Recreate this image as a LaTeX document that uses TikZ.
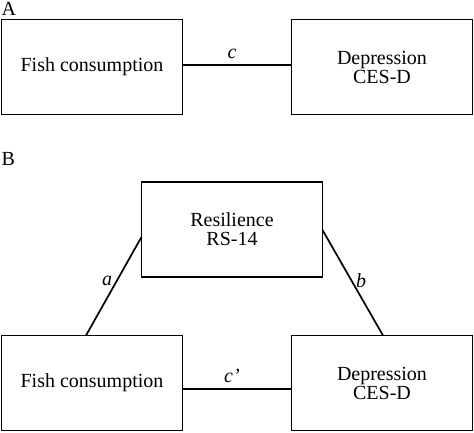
\documentclass[tikz,border=0pt]{standalone}
\usepackage{fontspec}
\setmainfont{Liberation Serif}
\begin{document}
\begin{tikzpicture}[x=1pt,y=1pt,
  box/.style={draw, line width=1.3pt, minimum width=181pt, minimum height=95pt, align=center, inner sep=0pt, outer sep=0pt, font=\fontsize{20}{19}\selectfont},
  conn/.style={line width=1.7pt},
  lbl/.style={font=\fontsize{20}{19}\selectfont\itshape, inner sep=0pt},
  panel/.style={font=\fontsize{20}{19}\selectfont, inner sep=0pt, anchor=base west}]
\useasboundingbox (0,0) rectangle (474,432);
% panel A
\node[panel] (pA) at (1.5,416.5) {A};
\node[box] (fishA) at (92,365) {Fish consumption};
\node[box] (depA) at (382,365) {Depression\\CES-D};
\draw[conn] ([yshift=2pt]fishA.east) -- ([yshift=2pt]depA.west);
\node[lbl] (lc) at (232,378) {c};
% panel B
\node[panel] (pB) at (1.5,266) {B};
\node[box] (res) at (232,202.5) {Resilience\\RS-14};
\node[box] (fishB) at (92,49) {Fish consumption};
\node[box] (depB) at (382,49) {Depression\\CES-D};
\draw[conn] ([xshift=-6pt]fishB.north) -- ([yshift=-7.5pt]res.west);
\draw[conn] ([yshift=-0.5pt]res.east) -- ([xshift=1pt]depB.north);
\draw[conn] ([yshift=-6pt]fishB.east) -- ([yshift=-6pt]depB.west);
\node[lbl] (la) at (107,151) {a};
\node[lbl] (lb) at (361,151) {b};
\node[lbl] (lcp) at (232,56) {c’};
\end{tikzpicture}
\end{document}
